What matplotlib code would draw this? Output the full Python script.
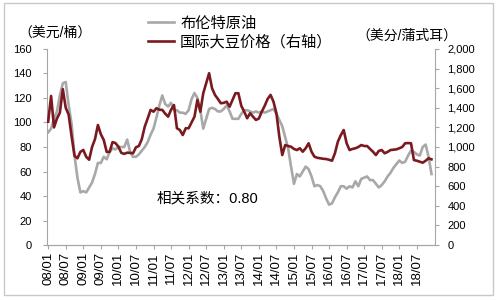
import numpy as np
import matplotlib
matplotlib.use("Agg")
import matplotlib.pyplot as plt
from matplotlib.patches import Rectangle
from matplotlib.ticker import FuncFormatter

plt.rcParams["font.family"] = ["Liberation Sans", "Noto Sans CJK SC"]

# monthly, 2008/01 - 2018/12
brent = [92, 95, 103, 109, 122, 132, 133, 114, 99, 73, 55, 43,
         44, 43, 47, 51, 58, 67, 67, 72, 70, 76, 79, 78,
         80, 80, 80, 86, 76, 72, 72, 74, 77, 80, 84, 90,
         95, 104, 114, 122, 115, 113, 116, 110, 110, 108, 108, 107,
         110, 119, 124, 120, 110, 95, 103, 111, 112, 111, 109, 109,
         111, 114, 109, 103, 103, 103, 107, 110, 110, 109, 108, 109,
         108, 109, 108, 109, 110, 111, 107, 102, 97, 88, 79, 64,
         50, 58, 56, 60, 64, 62, 56, 48, 49, 48, 44, 38,
         33, 34, 39, 43, 48, 48, 46, 48, 47, 52, 48, 54,
         55, 56, 53, 53, 50, 47, 49, 52, 56, 59, 63, 66,
         69, 67, 68, 73, 77, 76, 74, 73, 80, 82, 72, 58]

soybean = [1258, 1520, 1200, 1290, 1350, 1590, 1400, 1330, 1110, 910, 885, 950,
           970, 900, 870, 1000, 1080, 1224, 1130, 1071, 950, 950, 1050, 1040,
           1003, 940, 930, 942, 940, 936, 997, 1010, 1080, 1207, 1290, 1378,
           1360, 1395, 1380, 1378, 1340, 1309, 1380, 1428, 1191, 1173, 1122, 1191,
           1191, 1250, 1309, 1480, 1360, 1548, 1650, 1752, 1599, 1531, 1490, 1446,
           1450, 1462, 1411, 1480, 1548, 1548, 1420, 1360, 1293, 1344, 1309, 1276,
           1290, 1360, 1420, 1490, 1531, 1462, 1344, 1105, 918, 1020, 1010, 1003,
           980, 969, 987, 952, 987, 1038, 952, 901, 890, 885, 880, 877,
           870, 860, 936, 1054, 1120, 1173, 1038, 969, 980, 987, 1000, 1020,
           1010, 1010, 980, 952, 918, 960, 969, 936, 950, 969, 972, 976,
           987, 1000, 1038, 1040, 1038, 867, 860, 850, 840, 860, 885, 874]

tick_labels = ["08/01", "08/07", "09/01", "09/07", "10/01", "10/07", "11/01",
               "11/07", "12/01", "12/07", "13/01", "13/07", "14/01", "14/07",
               "15/01", "15/07", "16/01", "16/07", "17/01", "17/07", "18/01", "18/07"]

x = np.arange(len(brent))
axis_gray = "#a6a6a6"

fig = plt.figure(figsize=(5, 3), dpi=100)
ax = fig.add_axes([0.094, 0.183, 0.776, 0.654])
ax2 = ax.twinx()

l1, = ax.plot(x, brent, color="#a8a8a8", lw=1.9, label="布伦特原油")
l2, = ax2.plot(x, soybean, color="#7a1a1f", lw=1.9, label="国际大豆价格（右轴）")

ax.set_xlim(-0.4, 132.2)
ax.set_ylim(0, 160)
ax.set_yticks(np.arange(0, 161, 20))
ax2.set_ylim(0, 2000)
ax2.set_yticks(np.arange(0, 2001, 200))
ax2.yaxis.set_major_formatter(FuncFormatter(lambda v, p: f"{int(v):,}"))
ax.set_xticks(np.arange(0, 6 * len(tick_labels), 6))
ax.set_xticklabels(tick_labels, rotation=90, fontsize=9.5)

for a in (ax, ax2):
    a.spines["top"].set_visible(False)
    for s in ("left", "right", "bottom"):
        a.spines[s].set_color(axis_gray)
    a.tick_params(colors=axis_gray, labelcolor="black", length=3, labelsize=8)
ax.spines["right"].set_visible(False)
ax2.spines["left"].set_visible(False)
ax.tick_params(axis="x", labelsize=9.5, pad=2)
ax.tick_params(axis="y", pad=8)
ax2.tick_params(axis="y", pad=6)

fig.legend([l1, l2], [l1.get_label(), l2.get_label()], loc="upper left",
           bbox_to_anchor=(0.296, 0.945), frameon=False, fontsize=11,
           borderaxespad=0, borderpad=0, handlelength=1.7, handletextpad=0.4,
           labelspacing=0.3)

fig.text(0.036, 0.89, "（美元/桶）", fontsize=10, va="center", ha="left")
fig.text(0.712, 0.88, "（美分/蒲式耳）", fontsize=10, va="center", ha="left")
fig.text(0.314, 0.34, "相关系数：0.80", fontsize=10.5, va="center", ha="left")

fig.patches.append(Rectangle((0.008, 0.017), 0.978, 0.973, transform=fig.transFigure,
                             fill=False, edgecolor="#c8c8c8", lw=1))

plt.savefig("out.png", dpi=100)
